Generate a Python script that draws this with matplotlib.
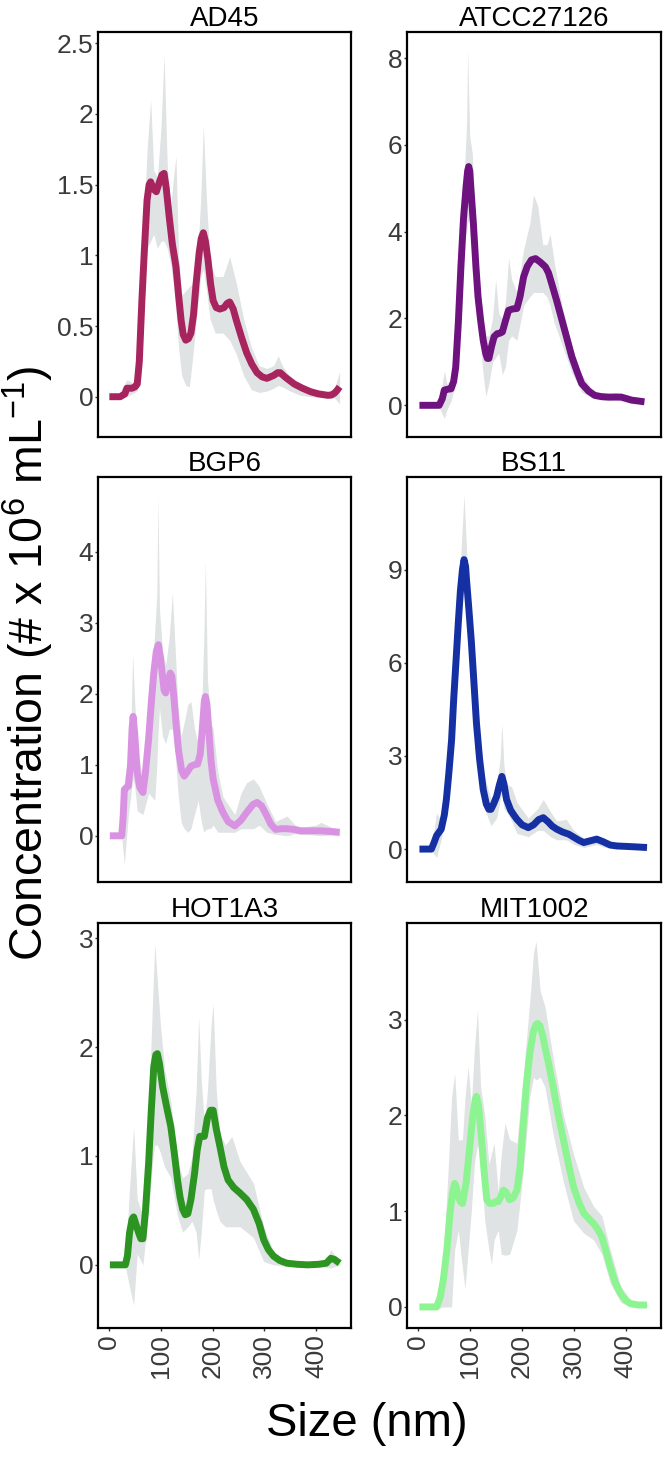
import numpy as np
import matplotlib.pyplot as plt

plt.rcParams['font.family'] = ['Liberation Sans', 'DejaVu Sans']
plt.rcParams['mathtext.fontset'] = 'custom'
plt.rcParams['mathtext.rm'] = 'Liberation Sans'
plt.rcParams['mathtext.it'] = 'Liberation Sans:italic'

# --- mean concentration curves (size in nm, concentration x 1e6 / mL) ---
ad45_x = [0, 21, 30, 34, 44, 50, 54, 58, 63, 68, 73, 77, 80, 85, 91, 97, 102, 106, 110, 116, 122, 129, 134,
          139, 143, 148, 153, 158, 163, 168, 174, 178, 182, 186, 191, 196, 201, 207, 214, 222, 228, 233,
          240, 246, 256, 266, 276, 286, 296, 305, 318, 326, 331, 340, 358, 374, 390, 405, 423, 430, 436,
          441, 446]
ad45_y = [0, 0, 0.02, 0.06, 0.06, 0.07, 0.09, 0.25, 0.68, 1.05, 1.39, 1.50, 1.52, 1.47, 1.45, 1.52, 1.57,
          1.58, 1.48, 1.27, 1.08, 0.92, 0.72, 0.54, 0.44, 0.40, 0.41, 0.45, 0.58, 0.80, 1.02, 1.12, 1.16,
          1.10, 0.97, 0.80, 0.68, 0.63, 0.62, 0.63, 0.66, 0.67, 0.62, 0.54, 0.42, 0.31, 0.23, 0.17, 0.14,
          0.13, 0.15, 0.17, 0.17, 0.14, 0.09, 0.06, 0.035, 0.02, 0.01, 0.012, 0.025, 0.045, 0.07]

atcc_x = [2, 40, 46, 50, 56, 63, 68, 72, 77, 82, 87, 92, 95, 97, 99, 101, 106, 111, 115, 120, 125, 130,
          133, 136, 141, 146, 152, 157, 162, 168, 174, 182, 190, 196, 203, 210, 218, 226, 235, 245, 251,
          257, 267, 277, 287, 296, 306, 315, 328, 340, 353, 366, 380, 391, 400, 411, 424, 436]
atcc_y = [0, 0, 0.15, 0.35, 0.37, 0.38, 0.55, 0.88, 1.9, 3.19, 4.3, 5.04, 5.4, 5.5, 5.4, 5.04, 4.2, 3.19,
          2.5, 1.96, 1.5, 1.19, 1.08, 1.08, 1.35, 1.58, 1.65, 1.66, 1.69, 1.95, 2.19, 2.22, 2.23, 2.5,
          2.96, 3.2, 3.35, 3.38, 3.3, 3.19, 3.05, 2.81, 2.4, 1.96, 1.52, 1.12, 0.78, 0.5, 0.33, 0.23, 0.2,
          0.19, 0.19, 0.19, 0.16, 0.12, 0.1, 0.08]

bgp6_x = [1, 24, 27, 29, 33, 37, 41, 44, 46, 49, 54, 59, 65, 70, 76, 81, 86, 91, 95, 99, 103, 106, 109,
          113, 118, 121, 125, 129, 134, 140, 145, 151, 158, 165, 171, 176, 180, 184, 186, 189, 193, 197,
          201, 210, 220, 230, 243, 255, 266, 278, 286, 295, 305, 313, 322, 333, 344, 357, 371, 390, 410,
          430, 446]
bgp6_y = [0, 0, 0.3, 0.65, 0.68, 0.70, 1.0, 1.5, 1.68, 1.45, 0.89, 0.68, 0.61, 0.9, 1.36, 1.85, 2.29,
          2.6, 2.69, 2.5, 2.25, 2.05, 2.01, 2.15, 2.29, 2.25, 1.95, 1.59, 1.2, 0.92, 0.84, 0.9, 0.98, 1.0,
          1.01, 1.15, 1.5, 1.9, 1.96, 1.85, 1.45, 1.05, 0.80, 0.5, 0.33, 0.2, 0.14, 0.22, 0.33, 0.44, 0.47,
          0.42, 0.28, 0.16, 0.09, 0.1, 0.10, 0.09, 0.07, 0.07, 0.07, 0.06, 0.05]

bs11_x = [2, 25, 30, 35, 44, 50, 54, 59, 64, 68, 73, 77, 81, 85, 88, 91, 93, 97, 102, 107, 112, 118, 125,
          131, 136, 140, 145, 151, 156, 161, 165, 170, 178, 184, 190, 200, 212, 222, 232, 241, 250, 258,
          267, 278, 290, 300, 310, 319, 330, 344, 356, 370, 383, 396, 420, 441]
bs11_y = [0, 0, 0.2, 0.43, 0.64, 1.1, 1.6, 2.5, 3.51, 4.8, 6.18, 7.3, 8.31, 9.0, 9.32, 9.1, 8.63, 7.8,
          6.71, 5.4, 4.05, 2.9, 1.92, 1.45, 1.28, 1.28, 1.45, 1.70, 2.05, 2.34, 2.1, 1.60, 1.25, 1.1, 0.96,
          0.78, 0.69, 0.78, 0.95, 1.01, 0.88, 0.74, 0.64, 0.55, 0.48, 0.38, 0.28, 0.21, 0.26, 0.32, 0.24,
          0.13, 0.1, 0.09, 0.07, 0.05]

hot1a3_x = [1, 31, 35, 39, 44, 47, 51, 57, 61, 65, 70, 76, 81, 86, 90, 93, 97, 103, 111, 119, 126, 132,
            137, 142, 147, 152, 158, 165, 170, 175, 180, 184, 190, 196, 201, 207, 214, 222, 230, 241, 253,
            266, 279, 290, 299, 308, 318, 330, 344, 364, 384, 405, 420, 425, 429, 436, 446]
hot1a3_y = [0, 0, 0.08, 0.29, 0.42, 0.44, 0.38, 0.29, 0.24, 0.24, 0.5, 0.93, 1.4, 1.82, 1.93, 1.94, 1.85,
            1.64, 1.45, 1.27, 1.02, 0.78, 0.62, 0.51, 0.46, 0.47, 0.6, 0.84, 1.05, 1.18, 1.18, 1.18, 1.35,
            1.42, 1.42, 1.25, 1.09, 0.9, 0.78, 0.71, 0.66, 0.6, 0.51, 0.38, 0.23, 0.14, 0.08, 0.04, 0.015,
            0.005, 0, 0.005, 0.015, 0.04, 0.06, 0.05, 0.015]

mit1002_x = [2, 35, 42, 48, 55, 61, 66, 70, 73, 77, 81, 85, 92, 99, 105, 110, 112, 116, 122, 127, 132,
             138, 144, 149, 154, 159, 164, 169, 176, 183, 190, 196, 202, 208, 215, 222, 227, 230, 234, 240,
             244, 252, 260, 270, 280, 290, 299, 309, 319, 329, 338, 346, 354, 362, 370, 380, 390, 400, 409,
             425, 441]
mit1002_y = [0, 0, 0.1, 0.28, 0.6, 0.98, 1.2, 1.29, 1.25, 1.15, 1.1, 1.08, 1.3, 1.67, 2.0, 2.17, 2.2, 2.1,
             1.74, 1.4, 1.12, 1.08, 1.08, 1.1, 1.10, 1.15, 1.22, 1.2, 1.12, 1.14, 1.22, 1.45, 1.88, 2.3,
             2.65, 2.88, 2.95, 2.96, 2.94, 2.83, 2.72, 2.52, 2.30, 2.0, 1.74, 1.48, 1.26, 1.1, 0.98, 0.92,
             0.87, 0.81, 0.73, 0.58, 0.42, 0.25, 0.14, 0.07, 0.035, 0.02, 0.02]

# --- replicate spread (grey ribbon) ---
ad45_bx = [0, 20, 34, 44, 54, 63, 73, 80, 86, 93, 100, 106, 112, 118, 124, 129, 134, 140, 148, 155, 162,
           170, 177, 182, 188, 195, 205, 220, 233, 246, 260, 275, 290, 305, 318, 327, 335, 350, 370, 390,
           420, 436, 446]
ad45_lo = [0, -0.02, 0.0, 0.02, 0.04, 0.45, 1.05, 1.10, 1.15, 1.05, 1.10, 1.10, 1.05, 0.95, 0.80, 0.60,
           0.35, 0.15, 0.08, 0.07, 0.30, 0.60, 0.85, 0.90, 0.75, 0.55, 0.45, 0.45, 0.40, 0.30, 0.15, 0.05,
           0.03, 0.04, 0.06, 0.08, 0.07, 0.04, 0.01, 0.0, -0.01, -0.01, -0.05]
ad45_hi = [0, 0.03, 0.12, 0.10, 0.15, 0.9, 1.75, 2.10, 1.60, 1.55, 1.90, 2.42, 1.65, 1.30, 1.55, 1.70,
           1.00, 0.72, 0.75, 0.78, 0.80, 0.95, 1.40, 1.92, 1.40, 0.95, 0.85, 0.85, 0.99, 0.80, 0.55, 0.35,
           0.22, 0.20, 0.22, 0.29, 0.22, 0.14, 0.08, 0.06, 0.03, 0.06, 0.18]

atcc_bx = [0, 40, 50, 55, 63, 72, 82, 88, 93, 95, 99, 104, 111, 120, 126, 130, 136, 143, 149, 155, 162,
           168, 174, 180, 190, 203, 215, 222, 230, 240, 248, 254, 262, 277, 296, 315, 340, 366, 380, 391,
           411, 436]
atcc_lo = [0, -0.05, -0.3, -0.1, 0.1, 0.5, 2.5, 3.8, 4.0, 4.2, 4.3, 4.0, 2.6, 1.3, 0.6, 0.2, 0.5, 1.0,
           1.1, 1.2, 0.7, 0.9, 1.5, 1.6, 1.5, 2.3, 2.5, 2.6, 2.6, 2.6, 2.5, 2.3, 1.9, 1.4, 0.75, 0.3, 0.15,
           0.10, 0.12, 0.10, 0.06, 0.04]
atcc_hi = [0, 0.05, 0.8, 0.5, 0.6, 1.3, 3.9, 5.2, 6.5, 8.2, 6.2, 5.8, 3.9, 2.5, 1.9, 1.6, 1.6, 2.0, 2.9,
           2.1, 2.0, 2.4, 3.4, 2.9, 2.6, 3.6, 4.2, 4.85, 4.6, 3.7, 3.7, 3.95, 3.3, 2.3, 1.35, 0.7, 0.3, 0.25,
           0.30, 0.25, 0.16, 0.10]

bgp6_bx = [0, 24, 29, 37, 42, 45, 49, 54, 65, 76, 88, 92, 94, 97, 103, 109, 116, 122, 127, 133, 139,
           145, 152, 158, 165, 172, 178, 183, 186, 190, 196, 201, 210, 220, 243, 255, 266, 279, 290, 305,
           322, 344, 360, 371, 400, 410, 430, 446]
bgp6_lo = [0, -0.03, -0.4, 0.3, 0.6, 0.8, 0.7, 0.35, 0.3, 0.6, 0.5, 1.0, 1.4, 1.8, 1.4, 1.3, 1.5, 1.5,
           1.2, 0.6, 0.19, 0.1, 0.05, 0.1, 0.3, 0.5, 0.2, 0.05, 0.08, 0.1, 0.1, 0.15, 0.05, 0.05, 0.05, 0.1,
           0.1, 0.1, 0.15, 0.05, 0.02, 0.0, 0.03, 0.02, 0.01, 0.0, 0.01, 0.0]
bgp6_hi = [0, 0.03, 0.8, 1.1, 1.6, 2.57, 1.9, 1.2, 0.8, 1.6, 2.9, 3.4, 4.77, 3.2, 2.6, 2.4, 2.8, 3.42,
           2.7, 1.8, 1.4, 1.6, 1.85, 1.89, 1.5, 1.3, 1.6, 2.8, 3.88, 2.2, 1.6, 1.5, 0.9, 0.55, 0.3, 0.6,
           0.75, 0.8, 0.7, 0.45, 0.2, 0.28, 0.15, 0.12, 0.15, 0.19, 0.12, 0.09]

bs11_bx = [0, 25, 35, 44, 54, 64, 73, 81, 88, 93, 102, 112, 125, 140, 151, 158, 161, 165, 170, 180, 190,
           212, 230, 241, 255, 267, 285, 300, 319, 344, 360, 396, 441]
bs11_lo = [0, -0.05, -0.27, 0.3, 1.2, 3.0, 5.5, 7.8, 8.3, 7.8, 6.0, 3.5, 1.4, 0.75, 1.0, 1.6, 1.8, 1.3,
           1.2, 0.9, 0.5, 0.4, 0.6, 0.6, 0.4, 0.3, 0.3, 0.15, 0.05, 0.15, 0.05, 0.03, 0.02]
bs11_hi = [0, 0.05, 1.17, 0.9, 2.0, 4.0, 6.8, 9.2, 11.4, 9.6, 7.4, 4.6, 2.5, 1.6, 2.0, 3.0, 4.05, 2.7,
           2.1, 2.0, 1.5, 1.0, 1.3, 1.6, 1.2, 0.9, 0.96, 0.6, 0.35, 0.45, 0.25, 0.15, 0.08]

hot1a3_bx = [0, 31, 39, 47, 54, 65, 76, 85, 88, 93, 99, 107, 119, 132, 142, 152, 160, 168, 173, 178,
             184, 190, 197, 201, 207, 214, 225, 237, 253, 279, 299, 318, 344, 384, 420, 429, 446]
hot1a3_lo = [0, -0.02, -0.2, -0.37, 0.1, 0.0, 0.5, 1.0, 1.1, 1.1, 1.03, 0.9, 0.8, 0.45, 0.3, 0.35, 0.4,
             0.3, 0.05, 0.3, 0.69, 0.7, 0.7, 0.6, 0.5, 0.4, 0.35, 0.35, 0.35, 0.25, 0.03, 0.0, -0.01,
             -0.01, -0.02, -0.03, 0.0]
hot1a3_hi = [0, 0.02, 0.7, 1.27, 0.6, 0.45, 1.4, 2.6, 2.95, 2.6, 2.2, 1.8, 1.5, 0.95, 0.8, 0.84, 1.0,
             1.6, 2.27, 1.7, 1.3, 1.6, 2.2, 2.4, 1.6, 1.2, 1.1, 1.18, 0.95, 0.75, 0.35, 0.12, 0.04, 0.02,
             0.05, 0.14, 0.03]

mit1002_bx = [0, 35, 48, 58, 64, 70, 77, 85, 90, 96, 102, 108, 114, 120, 128, 136, 141, 146, 154, 160,
              167, 176, 190, 202, 215, 222, 227, 235, 244, 260, 280, 299, 319, 338, 354, 370, 390, 409, 441]
mit1002_lo = [0, -0.02, 0.0, 0.0, 0.0, 0.6, 0.8, 0.4, 0.19, 0.6, 1.0, 1.5, 1.7, 1.5, 0.9, 0.6, 0.45, 0.7,
              0.8, 0.55, 0.54, 0.55, 0.8, 1.4, 2.2, 2.4, 2.37, 2.4, 2.3, 1.8, 1.3, 0.9, 0.77, 0.70, 0.55,
              0.25, 0.05, 0.0, 0.0]
mit1002_hi = [0, 0.02, 0.5, 1.5, 2.2, 2.44, 1.74, 1.75, 2.2, 2.51, 2.1, 2.7, 3.1, 2.3, 2.0, 1.5, 1.6, 1.71,
              1.2, 1.6, 1.92, 1.75, 1.71, 2.4, 3.2, 3.7, 3.82, 3.3, 3.14, 2.6, 2.0, 1.6, 1.25, 1.05, 0.95,
              0.6, 0.22, 0.07, 0.03]

strains = ["AD45", "ATCC27126", "BGP6", "BS11", "HOT1A3", "MIT1002"]
line_colors = ["#A8245E", "#6E1280", "#D992E2", "#1530A2", "#2C9522", "#8CF591"]
y_ticks = [[0, 0.5, 1, 1.5, 2, 2.5], [0, 2, 4, 6, 8], [0, 1, 2, 3, 4],
           [0, 3, 6, 9], [0, 1, 2, 3], [0, 1, 2, 3]]
y_limits = [(-0.285, 2.58), (-0.73, 8.6), (-0.65, 5.05), (-1.06, 11.98), (-0.58, 3.14), (-0.22, 4.01)]
x_ticks = [0, 100, 200, 300, 400]

curves = [(ad45_x, ad45_y, ad45_bx, ad45_lo, ad45_hi),
          (atcc_x, atcc_y, atcc_bx, atcc_lo, atcc_hi),
          (bgp6_x, bgp6_y, bgp6_bx, bgp6_lo, bgp6_hi),
          (bs11_x, bs11_y, bs11_bx, bs11_lo, bs11_hi),
          (hot1a3_x, hot1a3_y, hot1a3_bx, hot1a3_lo, hot1a3_hi),
          (mit1002_x, mit1002_y, mit1002_bx, mit1002_lo, mit1002_hi)]

W, H = 664, 1462
fig = plt.figure(figsize=(W / 100, H / 100), dpi=100)

col_left = [98, 407]
col_width = [253, 254]
row_top = [32, 477, 923]
row_height = 405

for i, name in enumerate(strains):
    r, c = divmod(i, 2)
    rect = [col_left[c] / W, 1 - (row_top[r] + row_height) / H, col_width[c] / W, row_height / H]
    ax = fig.add_axes(rect)
    x, y, bx, lo, hi = curves[i]

    ax.fill_between(bx, lo, hi, color="#E0E3E3", lw=0, zorder=1)
    ax.plot(x, y, color=line_colors[i], lw=5, solid_joinstyle="round", solid_capstyle="butt", zorder=2)

    ax.set_xlim(-22, 468)
    ax.set_ylim(*y_limits[i])
    ax.set_yticks(y_ticks[i])
    ax.set_yticklabels([f"{v:g}" for v in y_ticks[i]])
    ax.set_xticks(x_ticks)
    ax.set_title(name, fontsize=20, pad=3)

    for s in ax.spines.values():
        s.set_linewidth(1.6)
        s.set_color("black")
    ax.tick_params(axis="y", length=2.5, width=1, color="#333333", labelsize=19,
                   labelcolor="#3a3a3a", pad=1)
    if r == 2:
        ax.tick_params(axis="x", length=2.5, width=1, color="#333333", labelsize=19,
                       labelcolor="#3a3a3a", pad=2, labelrotation=90)
    else:
        ax.tick_params(axis="x", bottom=False, labelbottom=False)

fig.text(0.043, 0.5465, r"Concentration (# x 10$^{6}$ mL$^{-1}$)", rotation=90,
         ha="center", va="center", fontsize=33.5)
fig.text(0.553, 0.026, "Size (nm)", ha="center", va="center", fontsize=34)

fig.savefig("out.png", dpi=100)
